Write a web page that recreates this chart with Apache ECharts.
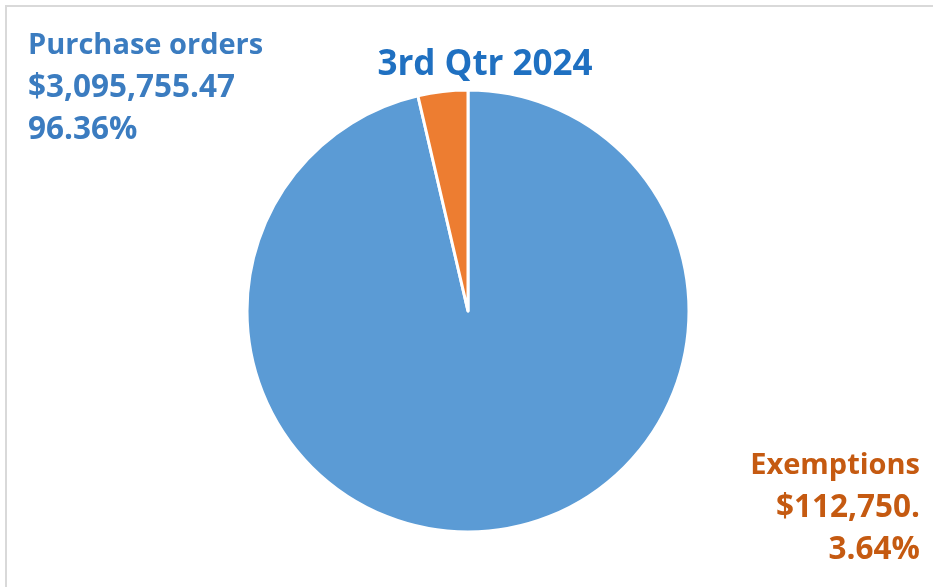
<!DOCTYPE html>
<html>
<head>
<meta charset="utf-8">
<script src="https://cdn.jsdelivr.net/npm/echarts@6/dist/echarts.min.js"></script>
<style>
    html, body { margin: 0; padding: 0; background: #fff; overflow: hidden; }
    #frame { position: absolute; left: 5px; top: 5px; width: 960px; height: 620px; border: 2px solid #d9d9d9; }
    #chart { position: absolute; left: 0; top: 0; width: 933px; height: 587px; }
</style>
</head>
<body>
<div id="frame"></div>
<div id="chart"></div>
<script>
const title = '3rd Qtr 2024';
const categories = ['Purchase orders', 'Exemptions'];
const shares = [96.36, 3.64];
const amounts = ['$3,095,755.47', '$112,750.'];
const sliceColors = ['#5B9BD5', '#ED7D31'];
const labelColors = ['#3b7cc0', '#C55A11'];

const chart = echarts.init(document.getElementById('chart'));

const data = [];
for (let i = 0; i < categories.length; i++) {
    data.push({
        name: categories[i],
        value: shares[i],
        itemStyle: { color: sliceColors[i] },
        label: { color: labelColors[i], align: i == 0 ? 'left' : 'right' }
    });
}

const option = {
    animation: false,
    title: {
        text: title,
        left: 480,
        top: 60,
        textAlign: 'center',
        textVerticalAlign: 'middle',
        textStyle: {
            fontFamily: 'Open Sans',
            fontWeight: 'bold',
            fontSize: 35,
            color: '#1f70c1'
        }
    },
    series: [{
        type: 'pie',
        center: [468, 311],
        radius: 221,
        startAngle: 90,
        clockwise: true,
        data: data,
        itemStyle: {
            borderColor: '#fff',
            borderWidth: 3
        },
        labelLine: { show: false },
        label: {
            show: true,
            position: 'outside',
            fontFamily: 'Open Sans',
            fontWeight: 'bold',
            fontSize: 29,
            lineHeight: 42,
            formatter: p => p.name + '\n{num|' + amounts[p.dataIndex] + '}\n{num|' + p.value.toFixed(2) + '%}',
            rich: {
                num: { fontFamily: 'Open Sans', fontWeight: 'bold', fontSize: 31.5, lineHeight: 42 }
            }
        },
        labelLayout: p => {
            if (p.dataIndex == 0) {
                return { x: 28, y: 25, align: 'left', verticalAlign: 'top' };
            }
            return { x: 920, y: 445, align: 'right', verticalAlign: 'top' };
        }
    }]
};

chart.setOption(option);
</script>
</body>
</html>
